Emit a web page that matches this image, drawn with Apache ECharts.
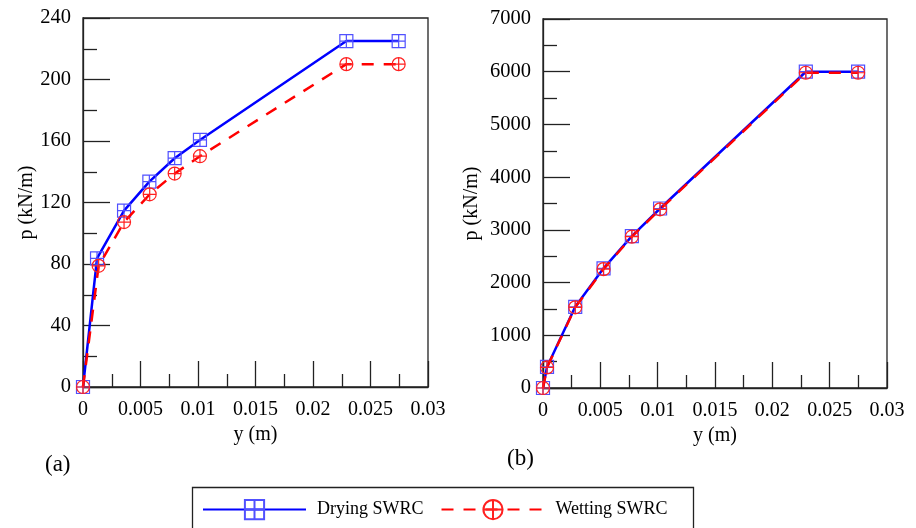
<!DOCTYPE html>
<html>
<head>
<meta charset="utf-8">
<script src="https://cdn.jsdelivr.net/npm/echarts@6/dist/echarts.min.js"></script>
<style>html,body{margin:0;padding:0;background:#fff;}#c{width:916px;height:528px;}</style>
</head>
<body>
<div id="c"></div>
<script>
// Panel (a)
const xA_dry = [0, 0.00122, 0.00357, 0.00577, 0.00797, 0.01017, 0.0229, 0.02745];
const pA_dry = [0, 83.6, 114.7, 133.6, 148.8, 160.7, 225, 225];
const xA_wet = [0, 0.00136, 0.00357, 0.0058, 0.00797, 0.01017, 0.0229, 0.02745];
const pA_wet = [0, 78.8, 107.3, 125.3, 138.8, 150.1, 210, 210];
// Panel (b)
const xB_dry = [0, 0.00035, 0.00281, 0.00528, 0.00775, 0.01021, 0.02292, 0.02748];
const pB_dry = [0, 400, 1540, 2270, 2880, 3405, 6000, 6000];
const xB_wet = [0, 0.00035, 0.00281, 0.00528, 0.00775, 0.01021, 0.02292, 0.02748];
const pB_wet = [0, 390, 1530, 2255, 2870, 3390, 5980, 5980];
const seriesNames = ['Drying SWRC', 'Wetting SWRC'];
const yTicksA = {min: 0, max: 240, interval: 40};
const yTicksB = {min: 0, max: 7000, interval: 1000};
const xTicks = {min: 0, max: 0.03, interval: 0.005};

const zip = (xs, ys) => xs.map((x, i) => [x, ys[i]]);
const FONT = 'Liberation Serif';
const SQ = 'path://M0,0H10V10H0ZM5,0V10M0,5H10';
const CI = 'path://M0,5A5,5,0,1,1,10,5A5,5,0,1,1,0,5ZM5,0V10M0,5H10';

function xAxis(gi) {
  return {
    type: 'value', gridIndex: gi, min: xTicks.min, max: xTicks.max, interval: xTicks.interval,
    name: 'y (m)', nameLocation: 'middle', nameGap: 36,
    nameTextStyle: {fontFamily: FONT, fontSize: 20, color: '#000'},
    axisLine: {show: true, lineStyle: {color: '#222', width: 1.3}},
    axisTick: {show: true, inside: true, length: 26, lineStyle: {color: '#222', width: 1.3}},
    minorTick: {show: true, splitNumber: 2, length: 13, lineStyle: {color: '#222', width: 1.3}},
    axisLabel: {fontFamily: FONT, fontSize: 20, color: '#000', margin: 13, formatter: v => String(v)},
    splitLine: {show: false}
  };
}
function yAxis(gi, t, gap) {
  return {
    type: 'value', gridIndex: gi, min: t.min, max: t.max, interval: t.interval,
    name: 'p (kN/m)', nameLocation: 'middle', nameGap: gap, nameRotate: 90,
    nameTextStyle: {fontFamily: FONT, fontSize: 20, color: '#000'},
    axisLine: {show: true, lineStyle: {color: '#222', width: 1.3}},
    axisTick: {show: true, inside: true, length: 27, lineStyle: {color: '#222', width: 1.3}},
    minorTick: {show: true, splitNumber: 2, length: 14, lineStyle: {color: '#222', width: 1.3}},
    axisLabel: {fontFamily: FONT, fontSize: 20.5, color: '#000', margin: 12, formatter: v => String(v)},
    splitLine: {show: false}
  };
}
function dry(gi, data) {
  return {
    name: seriesNames[0], type: 'line', xAxisIndex: gi, yAxisIndex: gi, data: data,
    symbol: SQ, symbolSize: 13, clip: false, z: 2,
    lineStyle: {color: '#0000ff', width: 2.5},
    itemStyle: {color: 'rgba(0,0,0,0)', borderColor: '#5050ff', borderWidth: 1.2}
  };
}
function wet(gi, data) {
  return {
    name: seriesNames[1], type: 'line', xAxisIndex: gi, yAxisIndex: gi, data: data,
    symbol: CI, symbolSize: 13, clip: false, z: 3,
    lineStyle: {color: '#ff0000', width: 2.5, type: [12, 10]},
    itemStyle: {color: 'rgba(0,0,0,0)', borderColor: '#ff2020', borderWidth: 1.2}
  };
}

const chart = echarts.init(document.getElementById('c'), null, {renderer: 'canvas'});
chart.setOption({
  animation: false,
  backgroundColor: '#fff',
  grid: [
    {left: 83, top: 18, width: 345, height: 369, show: true, borderColor: '#222', borderWidth: 1.3, backgroundColor: 'transparent'},
    {left: 543, top: 19, width: 344, height: 369, show: true, borderColor: '#222', borderWidth: 1.3, backgroundColor: 'transparent'}
  ],
  xAxis: [xAxis(0), xAxis(1)],
  yAxis: [yAxis(0, yTicksA, 46), yAxis(1, yTicksB, 61)],
  legend: {
    data: seriesNames, left: 202, top: 499, padding: 0,
    itemWidth: 103, itemHeight: 24, itemGap: 17,
    textStyle: {fontFamily: FONT, fontSize: 18, color: '#000', padding: [0, 0, 0, 6]}
  },
  graphic: [
    {type: 'rect', left: 190, top: 485, shape: {width: 501, height: 70}, style: {fill: 'none', stroke: '#222', lineWidth: 1.3}, silent: true},
    {type: 'text', left: 45, top: 453, style: {text: '(a)', font: '23px "Liberation Serif"', fill: '#000'}},
    {type: 'text', left: 507, top: 447, style: {text: '(b)', font: '23px "Liberation Serif"', fill: '#000'}}
  ],
  series: [
    dry(0, zip(xA_dry, pA_dry)), wet(0, zip(xA_wet, pA_wet)),
    dry(1, zip(xB_dry, pB_dry)), wet(1, zip(xB_wet, pB_wet))
  ]
});
</script>
</body>
</html>
